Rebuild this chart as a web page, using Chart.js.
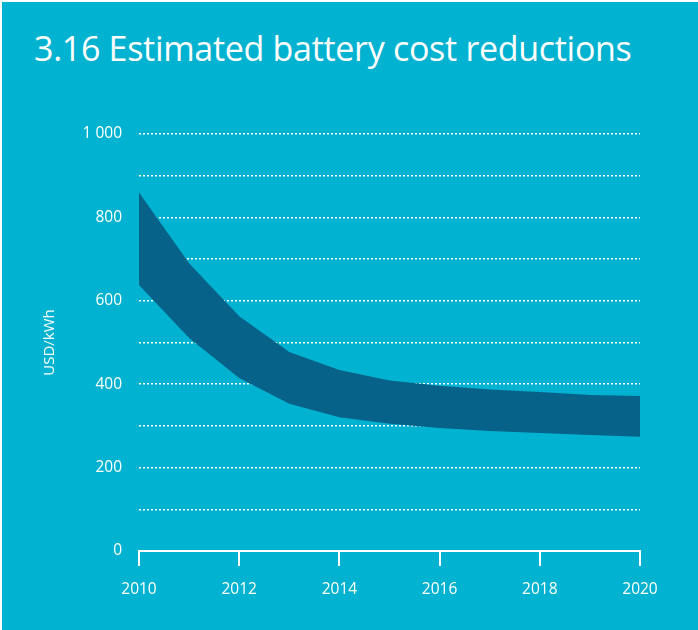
<!DOCTYPE html>
<html>
<head>
<meta charset="utf-8">
<script src="https://cdn.jsdelivr.net/npm/chart.js@4"></script>
<style>
  html, body { margin: 0; padding: 0; background: #ffffff; }
  #wrap {
    position: absolute; left: 2px; top: 2px; width: 696px; height: 628px;
    background: #02b2d1; overflow: hidden;
  }
  #title {
    position: absolute; left: 32px; top: 23px;
    font-family: "Open Sans", sans-serif; font-size: 34px; color: #ffffff;
    white-space: nowrap; letter-spacing: -0.3px;
  }
  #chart { position: absolute; left: -2px; top: -2px; }
</style>
</head>
<body>
<div id="wrap">
  <div id="title">3.16 Estimated battery cost reductions</div>
  <canvas id="chart" width="698" height="630"></canvas>
</div>
<script>
// years on the x axis
var years = [2010, 2011, 2012, 2013, 2014, 2015, 2016, 2017, 2018, 2019, 2020];

// upper and lower edge of the estimated cost band (USD/kWh)
var upperCost = [860, 690, 563, 477, 434, 409, 396, 387, 381, 374, 372];
var lowerCost = [638, 511, 415, 353, 321, 305, 295, 288, 283, 278, 274];

var bandColor = "#07628a";

// chartjs wants x/y pairs for a linear x axis
function toPoints(values) {
    var points = [];
    for (var i = 0; i < years.length; i++) {
        points.push({ x: years[i], y: values[i] });
    }
    return points;
}

var data = {
    datasets: [
        {
            label: "Low estimate",
            data: toPoints(lowerCost),
            borderWidth: 0,
            pointRadius: 0,
            fill: false,
        },
        {
            label: "High estimate",
            data: toPoints(upperCost),
            borderWidth: 0,
            pointRadius: 0,
            backgroundColor: bandColor,
            fill: "-1",
        },
    ],
};

var tickFont = { family: "'Open Sans', sans-serif", size: 15.5 };

var config = {
    type: "line",
    data: data,
    options: {
        responsive: false,
        animation: false,
        layout: { padding: { left: 41, top: 134, right: 58, bottom: 28 } },
        plugins: { legend: { display: false }, tooltip: { enabled: false } },
        scales: {
            x: {
                type: "linear",
                min: 2010,
                max: 2020,
                ticks: {
                    stepSize: 2,
                    color: "#ffffff",
                    font: tickFont,
                    padding: 14,
                    callback: function (v) { return String(v); },
                },
                grid: {
                    drawOnChartArea: false,
                    drawTicks: true,
                    tickLength: 15,
                    color: "#ffffff",
                    lineWidth: 2,
                },
                border: { color: "#ffffff", width: 2 },
                afterFit: function (scale) { scale.height = 51; },
            },
            y: {
                min: 0,
                max: 1000,
                ticks: {
                    stepSize: 100,
                    color: "#ffffff",
                    font: tickFont,
                    padding: 17,
                    callback: function (v) {
                        if (v % 200 !== 0) return "";
                        return v >= 1000 ? "1 000" : String(v);
                    },
                },
                grid: {
                    drawTicks: false,
                    color: function (ctx) {
                        return ctx.tick && ctx.tick.value === 0 ? "rgba(0,0,0,0)" : "#ffffff";
                    },
                    lineWidth: 1.5,
                },
                border: { display: false, dash: [2, 2] },
                title: {
                    display: true,
                    text: "USD/kWh",
                    color: "#ffffff",
                    font: { family: "'Open Sans', sans-serif", size: 15 },
                    padding: 0,
                },
                afterFit: function (scale) { scale.width = 98; },
            },
        },
    },
};

var myChart = new Chart(document.getElementById("chart"), config);
</script>
</body>
</html>
